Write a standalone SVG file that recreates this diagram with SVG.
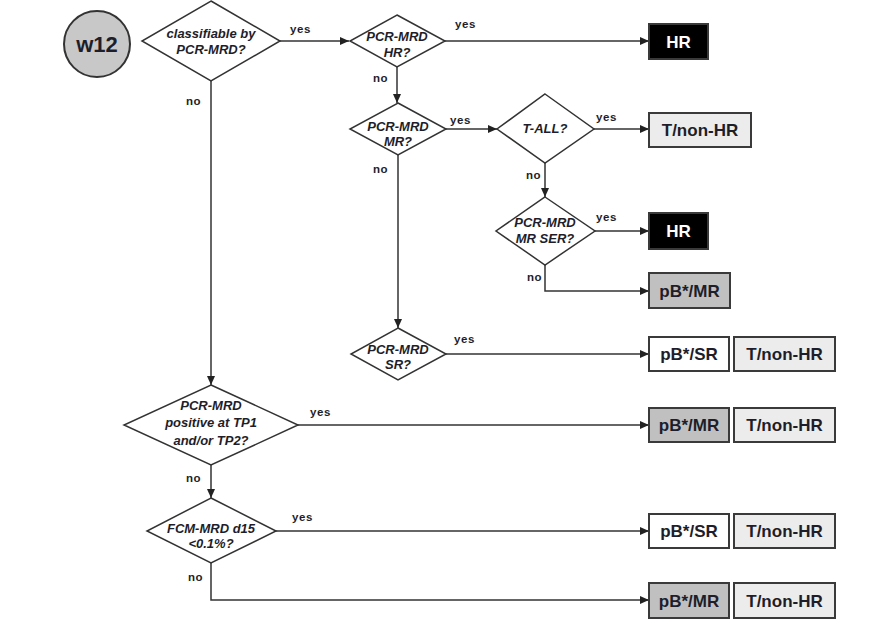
<svg xmlns="http://www.w3.org/2000/svg" width="873" height="637" viewBox="0 0 873 637">
<style>
.d{fill:#fff;stroke:#333;stroke-width:1.5}
.dt{font-family:"Liberation Sans",Arial,sans-serif;font-size:13px;font-weight:bold;font-style:italic;fill:#1e1e2a;text-anchor:middle}
.lb{font-family:"Liberation Sans",Arial,sans-serif;font-size:11.5px;font-weight:bold;fill:#1e1e2a;letter-spacing:0.6px}
.bx{stroke:#3a3a3a;stroke-width:2}
.bt{font-family:"Liberation Sans",Arial,sans-serif;font-size:17px;font-weight:bold;fill:#1e1e2a;text-anchor:middle}
.hr{fill:#000}
.mr{fill:#c0c0c0}
.tn{fill:#ececec}
.sr{fill:#fff}
.c{fill:none;stroke:#333;stroke-width:1.5}
</style>
<defs>
<marker id="a" markerUnits="userSpaceOnUse" markerWidth="10" markerHeight="10" refX="9" refY="4" orient="auto">
<path d="M0,0 L9,4 L0,8 Z" fill="#222"/>
</marker>
</defs>
<rect width="873" height="637" fill="#fff"/>
<g id="connectors">
<line class="c" x1="280" y1="41" x2="349" y2="41" marker-end="url(#a)"/>
<line class="c" x1="445" y1="41" x2="649" y2="41" marker-end="url(#a)"/>
<line class="c" x1="397" y1="67" x2="397" y2="103" marker-end="url(#a)"/>
<line class="c" x1="446" y1="129" x2="497" y2="129" marker-end="url(#a)"/>
<line class="c" x1="594" y1="129" x2="649" y2="129" marker-end="url(#a)"/>
<line class="c" x1="545" y1="163" x2="545" y2="197" marker-end="url(#a)"/>
<line class="c" x1="595" y1="231" x2="649" y2="231" marker-end="url(#a)"/>
<polyline class="c" points="545,265 545,291 649,291" marker-end="url(#a)"/>
<line class="c" x1="398" y1="155" x2="398" y2="328" marker-end="url(#a)"/>
<line class="c" x1="446" y1="354" x2="649" y2="354" marker-end="url(#a)"/>
<line class="c" x1="211" y1="81" x2="211" y2="385" marker-end="url(#a)"/>
<line class="c" x1="298" y1="425" x2="649" y2="425" marker-end="url(#a)"/>
<line class="c" x1="211" y1="465" x2="211" y2="498" marker-end="url(#a)"/>
<line class="c" x1="276" y1="531" x2="649" y2="531" marker-end="url(#a)"/>
<polyline class="c" points="211,563 211,600 649,600" marker-end="url(#a)"/>
<text class="lb" x="290" y="33">yes</text>
<text class="lb" x="455" y="28">yes</text>
<text class="lb" x="373" y="82">no</text>
<text class="lb" x="450" y="124">yes</text>
<text class="lb" x="596" y="121">yes</text>
<text class="lb" x="526" y="179">no</text>
<text class="lb" x="596" y="221">yes</text>
<text class="lb" x="527" y="281">no</text>
<text class="lb" x="373" y="173">no</text>
<text class="lb" x="454" y="343">yes</text>
<text class="lb" x="186" y="105">no</text>
<text class="lb" x="310" y="416">yes</text>
<text class="lb" x="186" y="482">no</text>
<text class="lb" x="292" y="521">yes</text>
<text class="lb" x="188" y="581">no</text>
</g>
<g id="w12">
<circle cx="97" cy="44" r="33" fill="#c8c8c8" stroke="#333" stroke-width="2"/>
<text x="97" y="52" font-family="'Liberation Sans',Arial,sans-serif" font-size="22" font-weight="bold" fill="#1e1e2a" text-anchor="middle">w12</text>
</g>
<g id="q-classifiable">
<polygon class="d" points="211,1 280,41 211,81 142,41"/>
<text class="dt" x="211" y="38">classifiable by</text>
<text class="dt" x="211" y="54">PCR-MRD?</text>
</g>
<g id="q-hr">
<polygon class="d" points="397,15 445,41 397,67 350,41"/>
<text class="dt" x="397" y="41">PCR-MRD</text>
<text class="dt" x="397" y="57">HR?</text>
</g>
<g id="box-hr1">
<rect class="bx hr" x="649" y="24" width="59" height="35"/>
<text class="bt" x="678.5" y="48" style="fill:#fff">HR</text>
</g>
<g id="q-mr">
<polygon class="d" points="398,103 446,129 398,155 350,129"/>
<text class="dt" x="398" y="131">PCR-MRD</text>
<text class="dt" x="398" y="146">MR?</text>
</g>
<g id="q-tall">
<polygon class="d" points="545,94 594,129 545,163 497,129"/>
<text class="dt" x="545" y="133">T-ALL?</text>
</g>
<g id="box-tnonhr1">
<rect class="bx tn" x="649" y="113" width="102" height="34"/>
<text class="bt" x="700" y="136">T/non-HR</text>
</g>
<g id="q-mrser">
<polygon class="d" points="545,197 595,231 545,265 496,231"/>
<text class="dt" x="545" y="227">PCR-MRD</text>
<text class="dt" x="545" y="243">MR SER?</text>
</g>
<g id="box-hr2">
<rect class="bx hr" x="649" y="213" width="59" height="36"/>
<text class="bt" x="678.5" y="237" style="fill:#fff">HR</text>
</g>
<g id="box-mr1">
<rect class="bx mr" x="649" y="273" width="81" height="35"/>
<text class="bt" x="689.5" y="297">pB*/MR</text>
</g>
<g id="q-sr">
<polygon class="d" points="398,328 446,354 398,380 351,354"/>
<text class="dt" x="398" y="354">PCR-MRD</text>
<text class="dt" x="398" y="369">SR?</text>
</g>
<g id="box-sr1">
<rect class="bx sr" x="649" y="337" width="80" height="34"/>
<text class="bt" x="689" y="360">pB*/SR</text>
</g>
<g id="box-tnonhr2">
<rect class="bx tn" x="734" y="337" width="101" height="34"/>
<text class="bt" x="784.5" y="360">T/non-HR</text>
</g>
<g id="q-positive">
<polygon class="d" points="211,385 298,425 211,465 124,425"/>
<text class="dt" x="211" y="410">PCR-MRD</text>
<text class="dt" x="211" y="427">positive at TP1</text>
<text class="dt" x="211" y="445">and/or TP2?</text>
</g>
<g id="box-mr2">
<rect class="bx mr" x="649" y="408" width="80" height="34"/>
<text class="bt" x="689" y="431">pB*/MR</text>
</g>
<g id="box-tnonhr3">
<rect class="bx tn" x="734" y="408" width="101" height="34"/>
<text class="bt" x="784.5" y="431">T/non-HR</text>
</g>
<g id="q-fcm">
<polygon class="d" points="211,498 276,531 211,563 147,531"/>
<text class="dt" x="211" y="533">FCM-MRD d15</text>
<text class="dt" x="211" y="548">&lt;0.1%?</text>
</g>
<g id="box-sr2">
<rect class="bx sr" x="649" y="514" width="80" height="34"/>
<text class="bt" x="689" y="537">pB*/SR</text>
</g>
<g id="box-tnonhr4">
<rect class="bx tn" x="734" y="514" width="101" height="34"/>
<text class="bt" x="784.5" y="537">T/non-HR</text>
</g>
<g id="box-mr3">
<rect class="bx mr" x="649" y="583" width="80" height="35"/>
<text class="bt" x="689" y="607">pB*/MR</text>
</g>
<g id="box-tnonhr5">
<rect class="bx tn" x="734" y="583" width="101" height="35"/>
<text class="bt" x="784.5" y="607">T/non-HR</text>
</g>
</svg>
